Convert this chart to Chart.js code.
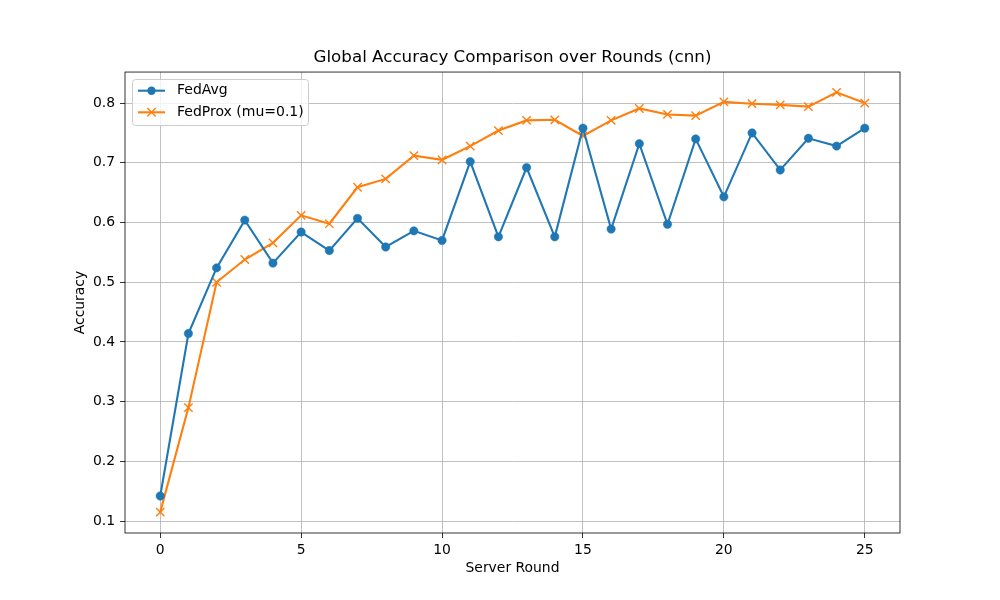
<!DOCTYPE html>
<html>
<head>
<meta charset="utf-8">
<script src="https://cdn.jsdelivr.net/npm/chart.js@4"></script>
<style>
  html, body { margin: 0; padding: 0; background: #fff; }
  #wrap { width: 1000px; height: 600px; }
</style>
</head>
<body>
<div id="wrap"><canvas id="myChart" width="1000" height="600"></canvas></div>
<script>
var rounds = [0, 1, 2, 3, 4, 5, 6, 7, 8, 9, 10, 11, 12, 13, 14, 15, 16, 17, 18, 19, 20, 21, 22, 23, 24, 25];
var fedAvg = [0.142, 0.414, 0.524, 0.604, 0.532, 0.584, 0.553, 0.607, 0.559, 0.586, 0.570, 0.702, 0.576,
              0.692, 0.576, 0.758, 0.589, 0.732, 0.597, 0.740, 0.643, 0.750, 0.688, 0.741, 0.728, 0.758];
var fedProx = [0.115, 0.290, 0.500, 0.538, 0.566, 0.612, 0.598, 0.659, 0.673, 0.712, 0.705, 0.728, 0.754,
               0.771, 0.772, 0.745, 0.771, 0.791, 0.781, 0.779, 0.802, 0.799, 0.797, 0.794, 0.818, 0.800];
var xTicks = [0, 5, 10, 15, 20, 25];
var yTicks = [0.1, 0.2, 0.3, 0.4, 0.5, 0.6, 0.7, 0.8];

var font = "'DejaVu Sans', sans-serif";
var blue = '#1f77b4';
var orange = '#ff7f0e';

// marco de los ejes y leyenda al estilo matplotlib
var framePlugin = {
    id: 'frame',
    afterDraw: function (chart) {
        var ctx = chart.ctx;
        var a = chart.chartArea;
        ctx.save();
        ctx.strokeStyle = '#000';
        ctx.lineWidth = 0.8;
        ctx.strokeRect(a.left, a.top, a.right - a.left, a.bottom - a.top);

        // leyenda
        var bx = 132.5, by = 79.5, bw = 176, bh = 46;
        ctx.fillStyle = 'rgba(255,255,255,0.8)';
        ctx.strokeStyle = '#cccccc';
        ctx.lineWidth = 1;
        ctx.beginPath();
        ctx.roundRect(bx, by, bw, bh, 3);
        ctx.fill();
        ctx.stroke();

        var rows = [
            { label: chart.data.datasets[0].label, color: blue, y: 90.7, style: 'circle' },
            { label: chart.data.datasets[1].label, color: orange, y: 112.3, style: 'x' }
        ];
        rows.forEach(function (r) {
            ctx.strokeStyle = r.color;
            ctx.lineWidth = 2.1;
            ctx.beginPath();
            ctx.moveTo(138, r.y);
            ctx.lineTo(165, r.y);
            ctx.stroke();
            if (r.style === 'circle') {
                ctx.fillStyle = r.color;
                ctx.beginPath();
                ctx.arc(151.5, r.y, 4.2, 0, Math.PI * 2);
                ctx.fill();
            } else {
                ctx.lineWidth = 1.4;
                ctx.beginPath();
                ctx.moveTo(147.3, r.y - 4.2);
                ctx.lineTo(155.7, r.y + 4.2);
                ctx.moveTo(147.3, r.y + 4.2);
                ctx.lineTo(155.7, r.y - 4.2);
                ctx.stroke();
            }
            ctx.fillStyle = '#000';
            ctx.font = '14px ' + font;
            ctx.textBaseline = 'middle';
            ctx.textAlign = 'left';
            ctx.fillText(r.label, 177, r.y);
        });
        ctx.restore();
    }
};

var ctx = document.getElementById('myChart').getContext('2d');

var myChart = new Chart(ctx, {
    type: 'line',
    data: {
        datasets: [{
            label: 'FedAvg',
            data: rounds.map((r, i) => ({ x: r, y: fedAvg[i] })),
            borderColor: blue,
            backgroundColor: blue,
            borderWidth: 2.1,
            pointStyle: 'circle',
            pointRadius: 4.2,
            pointBorderWidth: 0.5,
            pointBackgroundColor: blue,
            pointBorderColor: blue,
            tension: 0
        }, {
            label: 'FedProx (mu=0.1)',
            data: rounds.map((r, i) => ({ x: r, y: fedProx[i] })),
            borderColor: orange,
            backgroundColor: orange,
            borderWidth: 2.1,
            pointStyle: 'crossRot',
            pointRadius: 5.9,
            pointBorderWidth: 1.4,
            pointBorderColor: orange,
            tension: 0
        }]
    },
    options: {
        responsive: false,
        animation: false,
        events: [],
        layout: { padding: { left: 0, right: 100, top: 0, bottom: 0 } },
        plugins: {
            legend: { display: false },
            tooltip: { enabled: false },
            title: {
                display: true,
                fullSize: false,
                text: 'Global Accuracy Comparison over Rounds (cnn)',
                color: '#000',
                font: { family: font, size: 16.7, weight: 'normal', lineHeight: 1.2 },
                padding: { top: 48, bottom: 4 }
            }
        },
        scales: {
            x: {
                type: 'linear',
                min: -1.25,
                max: 26.25,
                afterBuildTicks: function (scale) {
                    scale.ticks = xTicks.map(v => ({ value: v }));
                },
                afterFit: function (scale) { scale.height = 67; },
                ticks: {
                    color: '#000',
                    font: { family: font, size: 13.9 },
                    padding: 4,
                    maxRotation: 0,
                    callback: v => String(v)
                },
                grid: {
                    color: '#b0b0b0',
                    lineWidth: 0.8,
                    drawTicks: true,
                    tickLength: 5,
                    tickColor: '#000',
                    tickWidth: 0.8
                },
                border: { display: false },
                title: {
                    display: true,
                    text: 'Server Round',
                    color: '#000',
                    font: { family: font, size: 13.9 },
                    padding: { top: 0, bottom: 23 }
                }
            },
            y: {
                min: 0.08,
                max: 0.852,
                afterBuildTicks: function (scale) {
                    scale.ticks = yTicks.map(v => ({ value: v }));
                },
                afterFit: function (scale) { scale.width = 125; },
                ticks: {
                    color: '#000',
                    font: { family: font, size: 13.9 },
                    padding: 5,
                    callback: v => v.toFixed(1)
                },
                grid: {
                    color: '#b0b0b0',
                    lineWidth: 0.8,
                    drawTicks: true,
                    tickLength: 5,
                    tickColor: '#000',
                    tickWidth: 0.8
                },
                border: { display: false },
                title: {
                    display: true,
                    text: 'Accuracy',
                    color: '#000',
                    font: { family: font, size: 13.9 },
                    padding: { top: 72, bottom: 0 }
                }
            }
        }
    },
    plugins: [framePlugin]
});
</script>
</body>
</html>
